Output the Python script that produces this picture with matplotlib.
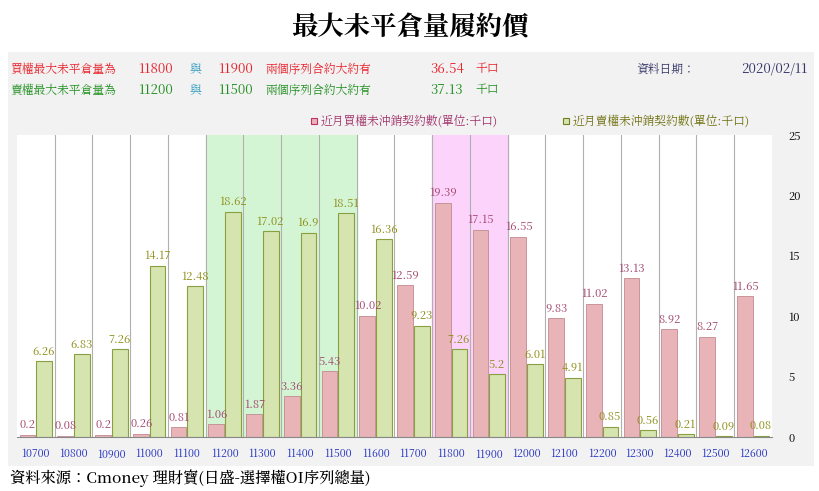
import matplotlib
matplotlib.use("Agg")
import matplotlib.pyplot as plt
from matplotlib import font_manager as fm
import numpy as np

cjk = [f.name for f in fm.fontManager.ttflist if 'CJK' in f.name]
for f in fm.findSystemFonts():
    if 'CJK' in f and not cjk:
        try:
            fm.fontManager.addfont(f)
        except Exception:
            pass
cjk = [f.name for f in fm.fontManager.ttflist if 'CJK' in f.name]
pref = [n for n in cjk if 'TC' in n] or cjk
plt.rcParams['font.family'] = 'sans-serif'
plt.rcParams['font.sans-serif'] = (pref[:1] if pref else []) + ['DejaVu Sans']

strikes = ["10700","10800","10900","11000","11100","11200","11300","11400","11500","11600",
           "11700","11800","11900","12000","12100","12200","12300","12400","12500","12600"]
calls = [0.2,0.08,0.2,0.26,0.81,1.06,1.87,3.36,5.43,10.02,12.59,19.39,17.15,16.55,9.83,11.02,13.13,8.92,8.27,11.65]
puts = [6.26,6.83,7.26,14.17,12.48,18.62,17.02,16.9,18.51,16.36,9.23,7.26,5.2,6.01,4.91,0.85,0.56,0.21,0.09,0.08]

W, H = 820, 491
fig = plt.figure(figsize=(W/100, H/100), dpi=100)
fig.patch.set_facecolor('white')
fig.patches.append(plt.Rectangle((8/W, 1-466/H), 806/W, 414/H, transform=fig.transFigure,
                                 facecolor='#f2f2f2', edgecolor='none', zorder=-5))
fig.text(0.5, 1-27/H, "最大未平倉量履約價", ha='center', va='center', fontsize=19, fontweight='bold')

r, g = '#e8202a', '#1f8f1f'
y1, y2 = 1-69/H, 1-90/H
fs = 8.5
for y, col, txt, a, b, v in [(y1, r, "買權最大未平倉量為", "11800", "11900", "36.54"),
                             (y2, g, "賣權最大未平倉量為", "11200", "11500", "37.13")]:
    fig.text(10/W, y, txt, color=col, fontsize=fs, va='center')
    fig.text(138/W, y, a, color=col, fontsize=fs+1, va='center')
    fig.text(190/W, y, "與", color='#3aa0c0', fontsize=fs, va='center')
    fig.text(218/W, y, b, color=col, fontsize=fs+1, va='center')
    fig.text(265/W, y, "兩個序列合約大約有", color=col, fontsize=fs, va='center')
    fig.text(430/W, y, v, color=col, fontsize=fs+1, va='center')
    fig.text(475/W, y, "千口", color=col, fontsize=fs, va='center')
fig.text(636/W, y1, "資料日期：", color='#333366', fontsize=fs, va='center')
fig.text(808/W, y1, "2020/02/11", color='#333366', fontsize=fs+1, va='center', ha='right')

ax = fig.add_axes([17/W, 1-437/H, 755/W, 302/H])
ax.set_zorder(2)
ax.set_facecolor('white')
n = len(strikes)
x = np.arange(n)
ax.set_xlim(-0.5, n-0.5)
ax.set_ylim(0, 25)
ax.axvspan(4.5, 8.5, color='#d4f5d4', zorder=0)
ax.axvspan(10.5, 12.5, color='#fbd3fb', zorder=0)
for b in np.arange(0.5, n-0.5, 1):
    ax.axvline(b, color='#b0b0b0', lw=0.8, zorder=0.5)
bw = 0.42
ax.bar(x-bw/2-0.01, calls, bw, color='#e8b4b8', edgecolor='#c08a90', lw=0.6, zorder=2)
ax.bar(x+bw/2+0.01, puts, bw, color='#d6e4b0', edgecolor='#8aa040', lw=0.8, zorder=2)
for i in range(n):
    ax.text(x[i]-bw/2, calls[i]+0.3, f"{calls[i]:g}", ha='center', va='bottom', fontsize=8, color='#a0406a', zorder=3)
    ax.text(x[i]+bw/2, puts[i]+0.3, f"{puts[i]:g}", ha='center', va='bottom', fontsize=8, color='#8a8a10', zorder=3)
ax.set_xticks(x)
ax.set_xticklabels(strikes, color='#2030c0', fontsize=7.5)
ax.yaxis.tick_right()
ax.set_yticks([0,5,10,15,20,25])
ax.tick_params(axis='y', length=0, labelsize=8, pad=12)
ax.tick_params(axis='x', length=0, pad=8)
for s in ax.spines.values():
    s.set_visible(False)
ax.spines['bottom'].set_visible(True)
ax.spines['bottom'].set_color('#888888')

ly = 1-121/H
fig.patches.append(plt.Rectangle((311/W, ly-3/H), 6/W, 6/H, transform=fig.transFigure, facecolor='#e8b4b8', edgecolor='#c03060', lw=0.8))
fig.text(321/W, ly, "近月買權未沖銷契約數(單位:千口)", color='#a0306a', fontsize=8.5, va='center')
fig.patches.append(plt.Rectangle((563/W, ly-3/H), 6/W, 6/H, transform=fig.transFigure, facecolor='#d6e4b0', edgecolor='#708020', lw=0.8))
fig.text(573/W, ly, "近月賣權未沖銷契約數(單位:千口)", color='#707010', fontsize=8.5, va='center')

fig.text(10/W, 1-478/H, "資料來源：Cmoney 理財寶(日盛-選擇權OI序列總量)", fontsize=11, va='center', fontweight='medium')
fig.savefig("out.png", dpi=100)
